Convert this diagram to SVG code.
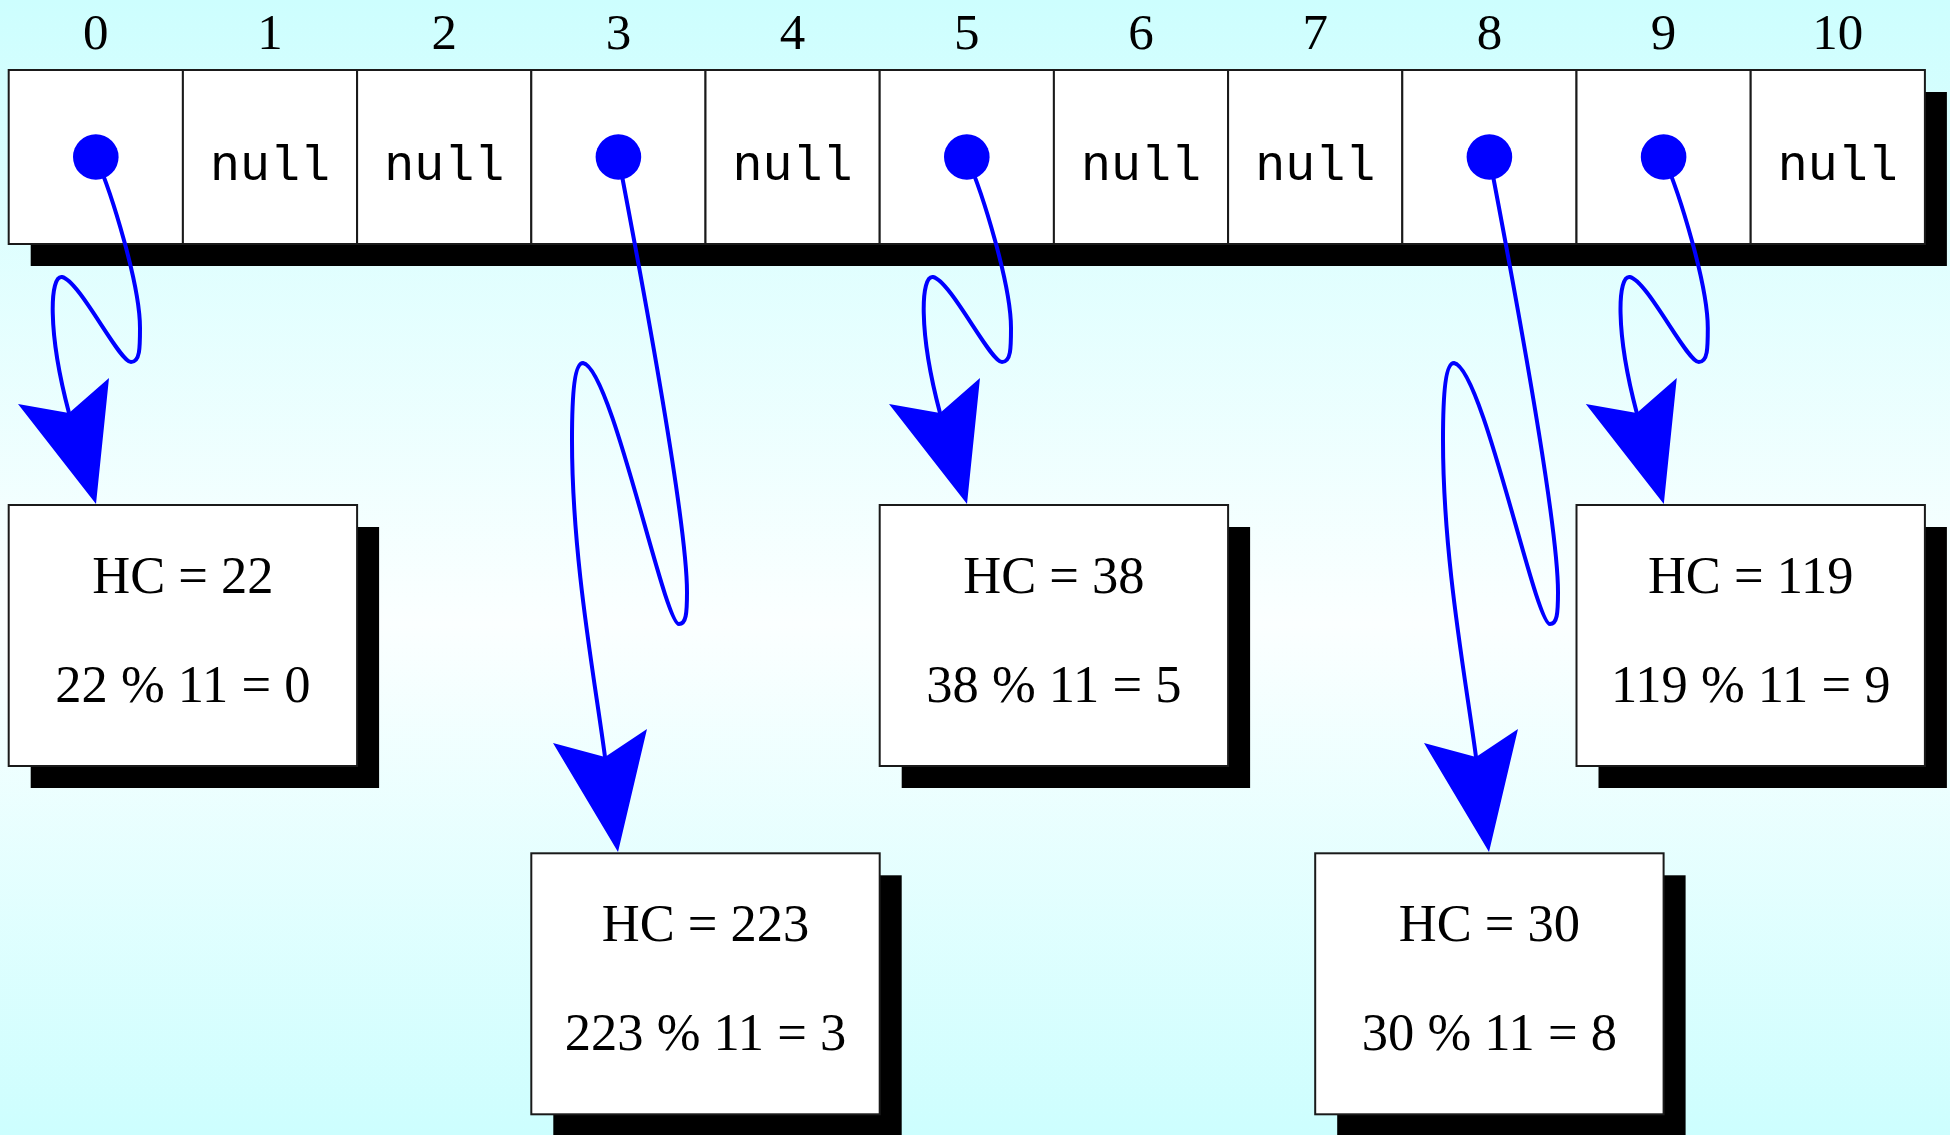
<svg xmlns="http://www.w3.org/2000/svg" xmlns:xlink="http://www.w3.org/1999/xlink" width="1950" height="1135" viewBox="0 0 1950 1135">
  <defs>
    <linearGradient id="bg" x1="0" y1="0" x2="0" y2="1">
      <stop offset="0" stop-color="#cdfefe"/>
      <stop offset="0.55" stop-color="#fbffff"/>
      <stop offset="1" stop-color="#cdfefe"/>
    </linearGradient>
    <!-- short-hop pointer: dot in cell, looping tail, head on node below -->
    <g id="hopShort">
      <path class="wire" d="M95.8,157 C112,194 140,285 140,328 C140,348 140,362 131,362 C119,362 80,281 62,277 C50,275 47,330 69,413"/>
      <polygon class="head" points="96,504 18,404 69,413 109,378"/>
    </g>
    <!-- long-hop pointer into the lower row -->
    <g id="hopLong">
      <path class="wire" d="M618.4,157 C640,270 687,520 687,592 C687,614 686,624 679,624 C664,624 612,368 583,363 C575,363 572,390 572,440 C572,560 595,680 605,757"/>
      <polygon class="head" points="618,852 553,743 605,757 647,729"/>
    </g>
  </defs>
  <style>
    .cell { fill: #ffffff; stroke: #1a1a1a; stroke-width: 2; }
    .shadow { fill: #000000; }
    .box { fill: #ffffff; stroke: #1a1a1a; stroke-width: 2; }
    .idx { font-family: "Liberation Serif", "Times New Roman", serif; font-size: 51px; fill: #000; text-anchor: middle; }
    .null { font-family: "Liberation Mono", "Courier New", monospace; font-size: 50px; fill: #000; text-anchor: middle; }
    .lbl { font-family: "Liberation Serif", "Times New Roman", serif; font-size: 52.5px; fill: #000; text-anchor: middle; }
    .dot { fill: #0000ff; }
    .wire { fill: none; stroke: #0000ff; stroke-width: 4; stroke-linecap: round; }
    .head { fill: #0000ff; }
  </style>

  <rect x="0" y="0" width="1950" height="1135" fill="url(#bg)"/>

  <!-- bucket indices -->
  <g id="indices">
    <text class="idx" x="95.8" y="49">0</text>
    <text class="idx" x="270" y="49">1</text>
    <text class="idx" x="444.2" y="49">2</text>
    <text class="idx" x="618.4" y="49">3</text>
    <text class="idx" x="792.6" y="49">4</text>
    <text class="idx" x="966.8" y="49">5</text>
    <text class="idx" x="1141" y="49">6</text>
    <text class="idx" x="1315.2" y="49">7</text>
    <text class="idx" x="1489.4" y="49">8</text>
    <text class="idx" x="1663.6" y="49">9</text>
    <text class="idx" x="1837.8" y="49">10</text>
  </g>

  <!-- bucket array -->
  <g id="table">
    <rect class="shadow" x="30.7" y="92" width="1916.2" height="174"/>
    <g id="bucket-0"><rect class="cell" x="8.7" y="70" width="174.2" height="174"/><circle class="dot" cx="95.8" cy="157" r="22.8"/></g>
    <g id="bucket-1"><rect class="cell" x="182.9" y="70" width="174.2" height="174"/><text class="null" x="270" y="180">null</text></g>
    <g id="bucket-2"><rect class="cell" x="357.1" y="70" width="174.2" height="174"/><text class="null" x="444.2" y="180">null</text></g>
    <g id="bucket-3"><rect class="cell" x="531.3" y="70" width="174.2" height="174"/><circle class="dot" cx="618.4" cy="157" r="22.8"/></g>
    <g id="bucket-4"><rect class="cell" x="705.5" y="70" width="174.2" height="174"/><text class="null" x="792.6" y="180">null</text></g>
    <g id="bucket-5"><rect class="cell" x="879.7" y="70" width="174.2" height="174"/><circle class="dot" cx="966.8" cy="157" r="22.8"/></g>
    <g id="bucket-6"><rect class="cell" x="1053.9" y="70" width="174.2" height="174"/><text class="null" x="1141" y="180">null</text></g>
    <g id="bucket-7"><rect class="cell" x="1228.1" y="70" width="174.2" height="174"/><text class="null" x="1315.2" y="180">null</text></g>
    <g id="bucket-8"><rect class="cell" x="1402.3" y="70" width="174.2" height="174"/><circle class="dot" cx="1489.4" cy="157" r="22.8"/></g>
    <g id="bucket-9"><rect class="cell" x="1576.5" y="70" width="174.2" height="174"/><circle class="dot" cx="1663.6" cy="157" r="22.8"/></g>
    <g id="bucket-10"><rect class="cell" x="1750.7" y="70" width="174.2" height="174"/><text class="null" x="1837.8" y="180">null</text></g>
  </g>

  <!-- entry nodes -->
  <g id="node-22">
    <rect class="shadow" x="30.7" y="527" width="348.4" height="261"/>
    <rect class="box" x="8.7" y="505" width="348.4" height="261"/>
    <text class="lbl" x="182.9" y="593">HC = 22</text>
    <text class="lbl" x="182.9" y="702">22 % 11 = 0</text>
  </g>
  <g id="node-38">
    <rect class="shadow" x="901.7" y="527" width="348.4" height="261"/>
    <rect class="box" x="879.7" y="505" width="348.4" height="261"/>
    <text class="lbl" x="1053.9" y="593">HC = 38</text>
    <text class="lbl" x="1053.9" y="702">38 % 11 = 5</text>
  </g>
  <g id="node-119">
    <rect class="shadow" x="1598.5" y="527" width="348.4" height="261"/>
    <rect class="box" x="1576.5" y="505" width="348.4" height="261"/>
    <text class="lbl" x="1750.7" y="593">HC = 119</text>
    <text class="lbl" x="1750.7" y="702">119 % 11 = 9</text>
  </g>
  <g id="node-223">
    <rect class="shadow" x="553.3" y="875.3" width="348.4" height="261"/>
    <rect class="box" x="531.3" y="853.3" width="348.4" height="261"/>
    <text class="lbl" x="705.5" y="941.3">HC = 223</text>
    <text class="lbl" x="705.5" y="1050.3">223 % 11 = 3</text>
  </g>
  <g id="node-30">
    <rect class="shadow" x="1337.2" y="875.3" width="348.4" height="261"/>
    <rect class="box" x="1315.2" y="853.3" width="348.4" height="261"/>
    <text class="lbl" x="1489.4" y="941.3">HC = 30</text>
    <text class="lbl" x="1489.4" y="1050.3">30 % 11 = 8</text>
  </g>

  <!-- pointers from buckets to entries -->
  <g id="connectors">
    <use xlink:href="#hopShort"/>
    <use xlink:href="#hopShort" transform="translate(871,0)"/>
    <use xlink:href="#hopShort" transform="translate(1567.8,0)"/>
    <use xlink:href="#hopLong"/>
    <use xlink:href="#hopLong" transform="translate(871,0)"/>
  </g>
</svg>
